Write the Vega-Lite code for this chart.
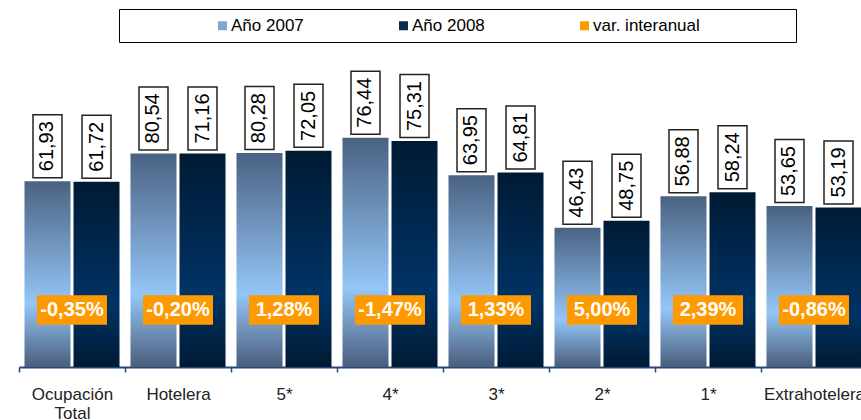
{
  "$schema": "https://vega.github.io/schema/vega-lite/v6.json",
  "autosize": "none",
  "width": 848,
  "height": 367,
  "padding": {"left": 19, "top": 0, "right": 0, "bottom": 53},
  "background": "white",
  "title": {"text": "(%)", "frame": "group", "anchor": "middle", "baseline": "alphabetic", "offset": 0, "dx": 64, "dy": -1, "fontSize": 20, "fontWeight": "bold", "font": "Liberation Sans", "color": "black"},
  "config": {"view": {"stroke": null}, "font": "Liberation Sans"},
  "datasets": {
    "bars": [
      {"cat": "Ocupación Total", "serie": "Año 2007", "v": 61.93, "label": "61,93"},
      {"cat": "Ocupación Total", "serie": "Año 2008", "v": 61.72, "label": "61,72"},
      {"cat": "Hotelera", "serie": "Año 2007", "v": 71.2, "label": "80,54"},
      {"cat": "Hotelera", "serie": "Año 2008", "v": 71.16, "label": "71,16"},
      {"cat": "5*", "serie": "Año 2007", "v": 71.3, "label": "80,28"},
      {"cat": "5*", "serie": "Año 2008", "v": 72.05, "label": "72,05"},
      {"cat": "4*", "serie": "Año 2007", "v": 76.44, "label": "76,44"},
      {"cat": "4*", "serie": "Año 2008", "v": 75.31, "label": "75,31"},
      {"cat": "3*", "serie": "Año 2007", "v": 63.95, "label": "63,95"},
      {"cat": "3*", "serie": "Año 2008", "v": 64.81, "label": "64,81"},
      {"cat": "2*", "serie": "Año 2007", "v": 46.43, "label": "46,43"},
      {"cat": "2*", "serie": "Año 2008", "v": 48.75, "label": "48,75"},
      {"cat": "1*", "serie": "Año 2007", "v": 56.88, "label": "56,88"},
      {"cat": "1*", "serie": "Año 2008", "v": 58.24, "label": "58,24"},
      {"cat": "Extrahotelera", "serie": "Año 2007", "v": 53.65, "label": "53,65"},
      {"cat": "Extrahotelera", "serie": "Año 2008", "v": 53.19, "label": "53,19"}
    ],
    "vars": [
      {"cat": "Ocupación Total", "serie": "var. interanual", "var": "-0,35%"},
      {"cat": "Hotelera", "serie": "var. interanual", "var": "-0,20%"},
      {"cat": "5*", "serie": "var. interanual", "var": "1,28%"},
      {"cat": "4*", "serie": "var. interanual", "var": "-1,47%"},
      {"cat": "3*", "serie": "var. interanual", "var": "1,33%"},
      {"cat": "2*", "serie": "var. interanual", "var": "5,00%"},
      {"cat": "1*", "serie": "var. interanual", "var": "2,39%"},
      {"cat": "Extrahotelera", "serie": "var. interanual", "var": "-0,86%"}
    ]
  },
  "encoding": {
    "x": {
      "field": "cat", "type": "nominal", "sort": null,
      "scale": {"paddingInner": 0, "paddingOuter": 0},
      "axis": {
        "title": null, "labelAngle": 0, "domainColor": "#24487a", "domainWidth": 2,
        "tickColor": "#24487a", "tickWidth": 1.5, "tickSize": 5, "tickBand": "extent",
        "labelFontSize": 17, "labelFont": "Liberation Sans", "labelColor": "#222",
        "labelPadding": 14, "labelLineHeight": 19, "labelBaseline": "top",
        "labelExpr": "datum.label == 'Ocupación Total' ? ['Ocupación', 'Total'] : datum.label"
      }
    }
  },
  "layer": [
    {
      "data": {"name": "bars"},
      "mark": {"type": "bar"},
      "encoding": {
        "xOffset": {"field": "serie", "type": "nominal", "scale": {"paddingInner": 0.0612, "paddingOuter": 0.112}},
        "y": {"field": "v", "type": "quantitative", "scale": {"domain": [0, 122.33], "nice": false, "zero": true}, "axis": null},
        "color": {
          "condition": {"test": "datum.serie === 'Año 2007'", "value": {"gradient": "linear", "x1": 0, "y1": 0, "x2": 0, "y2": 1, "stops": [{"offset": 0, "color": "#4a6282"}, {"offset": 0.66, "color": "#94c6f7"}, {"offset": 1, "color": "#4a5d7b"}]}},
          "value": {"gradient": "linear", "x1": 0, "y1": 0, "x2": 0, "y2": 1, "stops": [{"offset": 0, "color": "#001a33"}, {"offset": 0.66, "color": "#003366"}, {"offset": 1, "color": "#001a33"}]}
        }
      }
    },
    {
      "data": {"name": "bars"},
      "mark": {"type": "point", "shape": "M-0.46,-1H0.46V1H-0.46Z", "size": 3969, "filled": true, "fill": "white", "stroke": "#222", "strokeWidth": 1.5, "opacity": 1, "yOffset": -35},
      "encoding": {
        "xOffset": {"field": "serie", "type": "nominal", "scale": {"paddingInner": 0.0612, "paddingOuter": 0.112}},
        "y": {"field": "v", "type": "quantitative"}
      }
    },
    {
      "data": {"name": "bars"},
      "mark": {"type": "text", "angle": 270, "fontSize": 20, "font": "Liberation Sans", "color": "black", "align": "center", "baseline": "middle", "yOffset": -35},
      "encoding": {
        "xOffset": {"field": "serie", "type": "nominal", "scale": {"paddingInner": 0.0612, "paddingOuter": 0.112}},
        "y": {"field": "v", "type": "quantitative"},
        "text": {"field": "label"}
      }
    },
    {
      "data": {"name": "vars"},
      "mark": {"type": "point", "shape": "M-1,-0.42H1V0.42H-1Z", "size": 4900, "filled": true, "opacity": 1, "strokeWidth": 0},
      "encoding": {
        "y": {"datum": 19.0, "type": "quantitative"},
        "color": {
          "field": "serie", "type": "nominal",
          "scale": {"domain": ["Año 2007", "Año 2008", "var. interanual"], "range": ["#7ea6d0", "#0a2a50", "#ff9900"]},
          "legend": {
            "orient": "none", "legendX": 100, "legendY": 9, "direction": "horizontal", "columns": 3,
            "title": "\u00a0", "titleOrient": "right", "titleFontSize": 4, "titlePadding": 88,
            "strokeColor": "black", "padding": 8, "symbolType": "square", "symbolSize": 81,
            "symbolStrokeWidth": 0, "symbolOpacity": 1, "labelFontSize": 17, "labelFont": "Liberation Sans", "labelColor": "black",
            "columnPadding": 4, "symbolOffset": 87, "labelOffset": 0, "gridAlign": "each"
          }
        }
      }
    },
    {
      "data": {"name": "vars"},
      "mark": {"type": "text", "fontSize": 20, "fontWeight": "bold", "font": "Liberation Sans", "color": "white", "align": "center", "baseline": "middle"},
      "encoding": {
        "y": {"datum": 19.0, "type": "quantitative"},
        "text": {"field": "var"}
      }
    }
  ]
}
